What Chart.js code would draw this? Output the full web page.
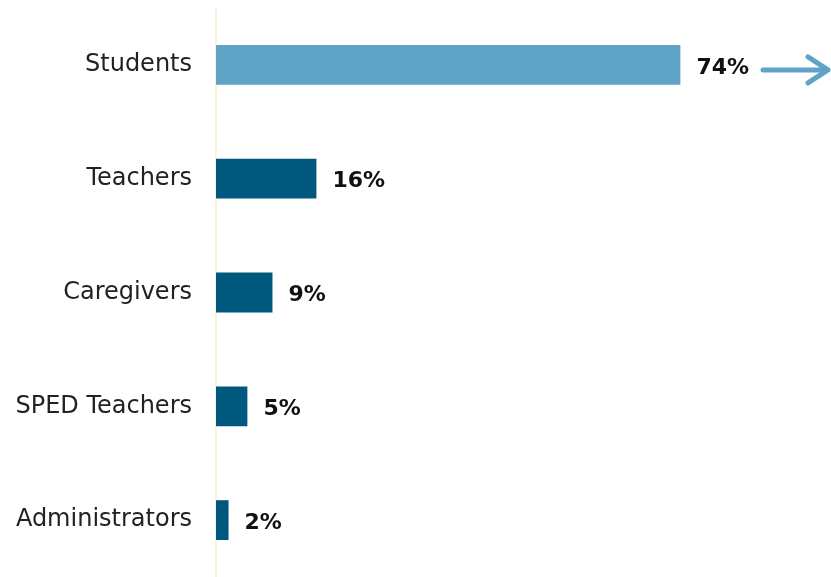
<!DOCTYPE html>
<html>
<head>
<meta charset="utf-8">
<script src="https://cdn.jsdelivr.net/npm/chart.js@4.4.0/dist/chart.umd.min.js"></script>
<style>
    html, body { margin: 0; padding: 0; background: #fff; }
    #wrap { width: 831px; height: 577px; position: relative; }
</style>
</head>
<body>
<div id="wrap"><canvas id="chart"></canvas></div>
<script>
const groups = ['Students', 'Teachers', 'Caregivers', 'SPED Teachers', 'Administrators']
const shares = [74, 16, 9, 5, 2]
const barColors = ['#5fa3c7', '#00587f', '#00587f', '#00587f', '#00587f']

// value labels at bar ends, plus the arrow after the first bar
const valueLabels = {
    id: 'valueLabels',
    afterDatasetsDraw(chart) {
        const ctx = chart.ctx
        const meta = chart.getDatasetMeta(0)
        ctx.save()
        ctx.font = 'bold 22px "DejaVu Sans"'
        ctx.fillStyle = '#111'
        ctx.textBaseline = 'middle'
        ctx.textAlign = 'left'
        meta.data.forEach((bar, i) => {
            const text = shares[i] + '%'
            const x = bar.x + 16
            ctx.fillText(text, x, bar.y + 3)
            if (i === 0) {
                const start = x + ctx.measureText(text).width + 14
                const end = chart.width - 3
                const y = bar.y + 5
                ctx.strokeStyle = barColors[0]
                ctx.lineWidth = 5
                ctx.lineCap = 'round'
                ctx.lineJoin = 'round'
                ctx.beginPath()
                ctx.moveTo(start, y)
                ctx.lineTo(end, y)
                ctx.moveTo(end - 20, y - 13)
                ctx.lineTo(end, y)
                ctx.lineTo(end - 20, y + 13)
                ctx.stroke()
            }
        })
        ctx.restore()
    }
}

new Chart(document.getElementById('chart'), {
    type: 'bar',
    data: {
        labels: groups,
        datasets: [{
            data: shares,
            backgroundColor: barColors,
            barPercentage: 0.7,
            categoryPercentage: 0.5,
        }]
    },
    options: {
        indexAxis: 'y',
        responsive: true,
        maintainAspectRatio: false,
        animation: false,
        layout: { padding: { top: 8, right: 0, bottom: -3, left: 0 } },
        plugins: {
            legend: { display: false },
            tooltip: { enabled: false },
        },
        scales: {
            x: { min: 0, max: 98, display: false },
            y: {
                afterFit(scale) {
                    scale.width = 216
                    scale.paddingTop = 0
                    scale.paddingBottom = 0
                },
                grid: { display: false, drawTicks: false },
                border: { display: true, color: '#fdf3dc', width: 2 },
                ticks: {
                    padding: 24,
                    color: '#222',
                    font: { family: '"DejaVu Sans"', size: 24 },
                },
            },
        },
    },
    plugins: [valueLabels],
});
</script>
</body>
</html>
